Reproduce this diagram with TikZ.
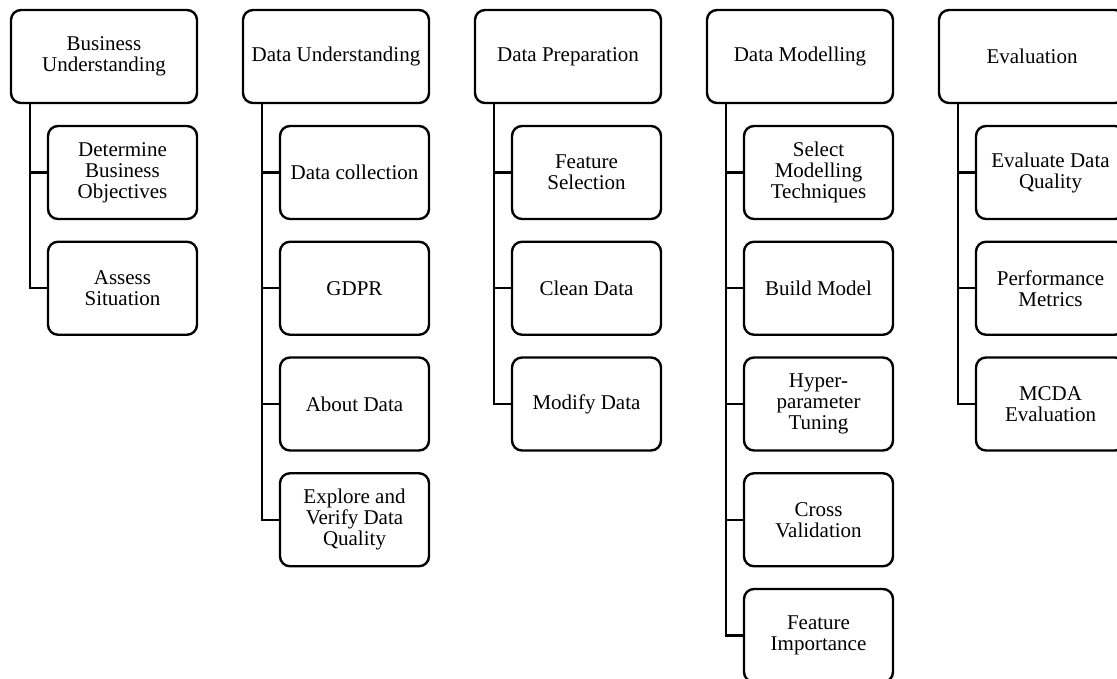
\documentclass[tikz,border=0pt]{standalone}
\usepackage{fontspec}
\setmainfont{Liberation Serif}
\begin{document}
\begin{tikzpicture}[x=1pt,y=-1pt,
  box/.style={draw=black, line width=2.4pt, rounded corners=10pt, fill=white,
    align=center, inner sep=2pt, font=\fontsize{21}{21}\selectfont},
  phase/.style={box, minimum width=186pt, minimum height=93pt},
  task/.style={box, minimum width=149pt, minimum height=93pt},
  link/.style={draw=black, line width=2.4pt}]
\useasboundingbox (0,0) rectangle (1117,678);

% phase headers
\node[phase] (p1) at (104,56.5)  {Business\\Understanding};
\node[phase] (p2) at (336,56.5)  {Data Understanding};
\node[phase] (p3) at (568,56.5)  {Data Preparation};
\node[phase] (p4) at (800,56.5)  {Data Modelling};
\node[phase] (p5) at (1032,56.5) {Evaluation};

% tasks of each phase
\node[task] (a1) at (122.5,172.5) {Determine\\Business\\Objectives};
\node[task] (a2) at (122.5,288.25) {Assess\\Situation};

\node[task] (b1) at (354.5,172.5) {Data collection};
\node[task] (b2) at (354.5,288.25) {GDPR};
\node[task] (b3) at (354.5,404) {About Data};
\node[task] (b4) at (354.5,519.75) {Explore and\\Verify Data\\Quality};

\node[task] (c1) at (586.5,172.5) {Feature\\Selection};
\node[task] (c2) at (586.5,288.25) {Clean Data};
\node[task] (c3) at (586.5,404) {Modify Data};

\node[task] (d1) at (818.5,172.5) {Select\\Modelling\\Techniques};
\node[task] (d2) at (818.5,288.25) {Build Model};
\node[task] (d3) at (818.5,404) {Hyper-\\parameter\\Tuning};
\node[task] (d4) at (818.5,519.75) {Cross\\Validation};
\node[task] (d5) at (818.5,635.5) {Feature\\Importance};

\node[task] (e1) at (1050.5,172.5) {Evaluate Data\\Quality};
\node[task] (e2) at (1050.5,288.25) {Performance\\Metrics};
\node[task] (e3) at (1050.5,404) {MCDA\\Evaluation};

% trunk-and-branch connectors
\foreach \p/\list in {p1/{a1,a2}, p2/{b1,b2,b3,b4}, p3/{c1,c2,c3},
                      p4/{d1,d2,d3,d4,d5}, p5/{e1,e2,e3}} {
  \foreach \t in \list {
    \draw[link] ([xshift=20pt]\p.south west) |- (\t.west);
  }
}
\end{tikzpicture}
\end{document}
